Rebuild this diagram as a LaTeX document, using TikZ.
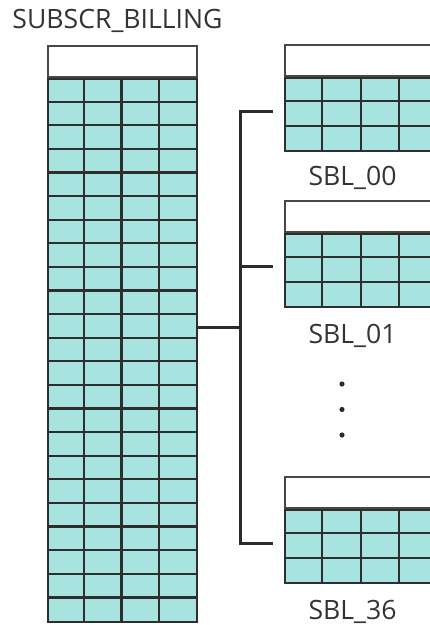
\documentclass[tikz,border=0pt]{standalone}
\usepackage{fontspec}
\setmainfont{Open Sans}
\usetikzlibrary{positioning,calc}
\definecolor{CellTeal}{HTML}{A7E4DF}
\definecolor{GridDark}{HTML}{2E2E2E}
\definecolor{HeadLine}{HTML}{474747}
\definecolor{BracketDark}{HTML}{2B2B2B}
\definecolor{LabelGray}{HTML}{333333}

\begin{document}
\begin{tikzpicture}[x=1pt,y=-1pt]
  \tikzstyle{cellblock}=[draw=GridDark, line width=2.2pt, fill=CellTeal, inner sep=0pt, anchor=north west]
  \tikzstyle{headblock}=[draw=HeadLine, line width=2.2pt, fill=white, inner sep=0pt, anchor=south west]
  \tikzstyle{gridline}=[draw=GridDark, line width=2.2pt]
  \tikzstyle{bracketline}=[draw=BracketDark, line width=3pt]
  \tikzstyle{tbllabel}=[text=LabelGray, font=\fontsize{26.6}{30}\selectfont, inner sep=0pt, anchor=base]
  \clip (0,0) rectangle (430,625);

  % partitioned table on the left
  \node[cellblock, minimum width=149pt, minimum height=543pt] (billing) at (47,78) {};
  \node[headblock, minimum width=149pt, minimum height=31pt] (billinghead) at (billing.north west) {};
  \foreach \i in {1,...,22}
    \draw[gridline] ($(billing.north west)+(0,\i*23.61)$) -- ++(149,0);
  \foreach \j in {1,2,3}
    \draw[gridline] ($(billing.north west)+(\j*37.25,0)$) -- ++(0,543);
  \node[tbllabel] (billinglbl) at (117.5,28) {SUBSCR\_BILLING};

  % partitions on the right
  \foreach \name/\top in {sbl00/77, sbl01/233, sbl36/509} {
    \node[cellblock, minimum width=160pt, minimum height=73pt] (\name) at (284,\top) {};
    \node[headblock, minimum width=160pt, minimum height=31pt] (\name head) at (\name.north west) {};
    \foreach \i in {1,2}
      \draw[gridline] ($(\name.north west)+(0,\i*24.33)$) -- ++(160,0);
    \foreach \j in {1,2,3}
      \draw[gridline] ($(\name.north west)+(\j*38.3,0)$) -- ++(0,73);
  }
  \node[tbllabel] (lbl00) at (352.5,185) {SBL\_00};
  \node[tbllabel] (lbl01) at (352.5,343) {SBL\_01};
  \node[tbllabel] (lbl36) at (352.5,619) {SBL\_36};

  % ellipsis
  \foreach \k in {0,1,2}
    \fill[BracketDark] (342,384+\k*25.5) circle (2.6pt);

  % bracket
  \coordinate (hub) at (240,327);
  \coordinate (tick00) at ([xshift=-11pt,yshift=3pt]sbl00.west);
  \coordinate (tick01) at ([xshift=-11pt,yshift=4pt]sbl01.west);
  \coordinate (tick36) at ([xshift=-11pt,yshift=3pt]sbl36.west);
  \draw[bracketline] (tick00) -- (hub |- tick00) -- (hub |- tick36) -- (tick36);
  \draw[bracketline] (tick01) -- (hub |- tick01);
  \draw[bracketline] (billing.east |- hub) -- (hub);
\end{tikzpicture}
\end{document}
